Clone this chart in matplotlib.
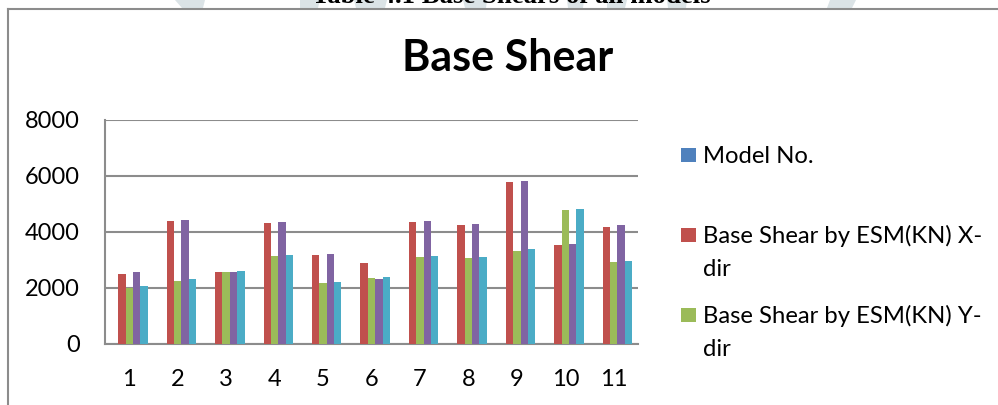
import matplotlib
matplotlib.use("Agg")
import matplotlib.pyplot as plt
from matplotlib.patches import Rectangle, Polygon
from matplotlib.lines import Line2D
import numpy as np

plt.rcParams['font.family'] = ['Lato', 'DejaVu Sans']

# ---- data -------------------------------------------------------------
models = ["1", "2", "3", "4", "5", "6", "7", "8", "9", "10", "11"]
model_no = [1, 2, 3, 4, 5, 6, 7, 8, 9, 10, 11]
esm_x = [2510, 4405, 2560, 4310, 3180, 2905, 4370, 4250, 5775, 3525, 4190]
esm_y = [2000, 2250, 2560, 3130, 2190, 2355, 3095, 3060, 3335, 4775, 2930]
rsm_x = [2570, 4440, 2585, 4345, 3225, 2310, 4405, 4285, 5820, 3585, 4240]
rsm_y = [2085, 2310, 2595, 3165, 2225, 2380, 3155, 3120, 3395, 4810, 2975]
y_ticks = [0, 2000, 4000, 6000, 8000]

series = [model_no, esm_x, esm_y, rsm_x, rsm_y]
colors = ["#4F81BD", "#C0504D", "#9BBB59", "#8064A2", "#4BACC6"]
legend_lines = [["Model No."],
                ["Base Shear by ESM(KN) X-", "dir"],
                ["Base Shear by ESM(KN) Y-", "dir"]]

W, H = 998, 405
fig = plt.figure(figsize=(W / 100, H / 100), dpi=100)


def fx(px):
    return px / W


def fy(py):
    return 1 - py / H


# faint page marks above the chart frame
for pts in ([(175, 0), (205, 0), (203, 8), (182, 8)],
            [(830, 0), (856, 0), (852, 8), (827, 8)],
            [(300, 0), (320, 0), (318, 8), (300, 8)],
            [(354, 0), (387, 0), (385, 8), (356, 8)],
            [(463, 0), (487, 0), (486, 8), (465, 8)],
            [(567, 0), (584, 0), (583, 8), (568, 8)],
            [(607, 0), (627, 0), (625, 8), (607, 8)],
            [(667, 0), (687, 0), (686, 8), (668, 8)]):
    fig.patches.append(Polygon([(fx(a), fy(b)) for a, b in pts], closed=True,
                               transform=fig.transFigure, facecolor="#dbe3e6",
                               edgecolor="none", zorder=0))

# page heading (cut at the top edge)
fig.text(fx(511), fy(3), "Table 4.1 Base Shears of all models",
         family="Liberation Serif", weight="bold", fontsize=19.3,
         ha="center", va="baseline")

# chart frame
frame_kw = dict(transform=fig.transFigure, color="#8c8c8c", lw=1.5)
fig.lines.append(Line2D([fx(8), fx(8)], [fy(9), fy(H + 2)], **frame_kw))
fig.lines.append(Line2D([fx(8), fx(W + 2)], [fy(9), fy(9)], **frame_kw))

# plot area
ax = fig.add_axes([fx(105), fy(344), fx(638) - fx(105), fy(120) - fy(344)])
x = np.arange(len(models))
bw = 0.1517
for i, (vals, c) in enumerate(zip(series, colors)):
    ax.bar(x + (i - 2) * bw, vals, width=bw, color=c, edgecolor="none", zorder=3)

ax.set_xlim(-0.5, len(models) - 0.5)
ax.set_ylim(0, 8000)
ax.set_yticks(y_ticks)
ax.set_yticklabels([str(v) for v in y_ticks])
ax.set_xticks(x)
ax.set_xticklabels(models)
ax.yaxis.grid(True, color="#8c8c8c", lw=1.5, zorder=0)
ax.tick_params(axis="both", length=0, labelsize=17, colors="black")
ax.tick_params(axis="y", pad=18)
ax.tick_params(axis="x", pad=18)
for s in ("top", "right"):
    ax.spines[s].set_visible(False)
for s in ("left", "bottom"):
    ax.spines[s].set_color("#8c8c8c")
    ax.spines[s].set_linewidth(1.5)

# chart title
fig.text(fx(508), fy(58), "Base Shear", fontsize=31, weight="bold",
         ha="center", va="center")

# legend
leg_rows = [155, 235, 315]
for lines, c, yy in zip(legend_lines, colors, leg_rows):
    fig.patches.append(Rectangle((fx(681), fy(yy + 7)), fx(15), 14 / H,
                                 transform=fig.transFigure, facecolor=c,
                                 edgecolor="none"))
    for k, line in enumerate(lines):
        fig.text(fx(703), fy(yy + 8 + 33 * k), line, fontsize=17.2,
                 ha="left", va="baseline")

fig.savefig("out.png", dpi=100, facecolor="white")
